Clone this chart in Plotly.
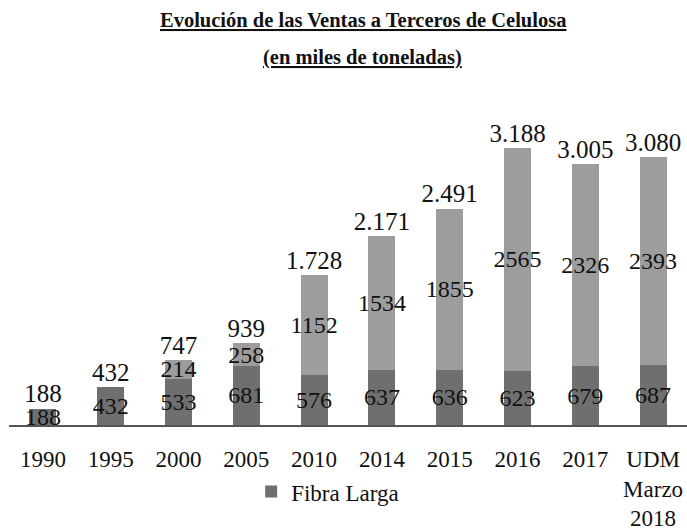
import plotly.graph_objects as go

categories = ["1990", "1995", "2000", "2005", "2010", "2014", "2015", "2016", "2017", "UDM<br>Marzo<br>2018"]
fibra_larga = [188, 432, 533, 681, 576, 637, 636, 623, 679, 687]
fibra_corta = [0, 0, 214, 258, 1152, 1534, 1855, 2565, 2326, 2393]
totales = [188, 432, 747, 939, 1728, 2171, 2491, 3188, 3005, 3080]

title_line1 = "Evolución de las Ventas a Terceros de Celulosa"
title_line2 = "(en miles de toneladas)"

SERIF = "Liberation Serif, Times New Roman, serif"
DARK = "#6f6f6f"
LIGHT = "#9d9d9d"

fig = go.Figure()
fig.add_trace(go.Bar(
    x=categories, y=fibra_larga, name="Fibra Larga",
    marker=dict(color=DARK, line=dict(width=0)),
    text=[str(v) for v in fibra_larga], textposition="inside",
    insidetextanchor="middle", constraintext="none", textangle=0,
    textfont=dict(family=SERIF, size=24, color="#111111"),
))
fig.add_trace(go.Bar(
    x=categories, y=fibra_corta, name="Fibra Corta", showlegend=False,
    marker=dict(color=LIGHT, line=dict(width=0)),
    text=[str(v) if v else "" for v in fibra_corta], textposition="inside",
    insidetextanchor="middle", constraintext="none", textangle=0,
    textfont=dict(family=SERIF, size=24, color="#111111"),
))
fig.add_trace(go.Scatter(
    x=categories, y=totales, mode="text", showlegend=False,
    texttemplate="%{y:,.0f}", textposition="top center", cliponaxis=False,
    textfont=dict(family=SERIF, size=25, color="#111111"),
))

plot_h = 528 - 100 - 103
fig.update_layout(
    width=687, height=528,
    margin=dict(l=9, r=0, t=100, b=103, autoexpand=False),
    paper_bgcolor="white", plot_bgcolor="white",
    barmode="stack", bargap=0.6,
    separators=",.",
    font=dict(family=SERIF, color="#111111"),
    showlegend=True,
    legend=dict(orientation="h", x=0.47, xanchor="center", y=-0.205, yanchor="middle",
                bgcolor="rgba(0,0,0,0)",
                font=dict(family=SERIF, size=23, color="#111111"), itemwidth=30),
    annotations=[
        dict(text="<u><b>" + title_line1 + "</b></u>", x=0.522, xref="paper", xanchor="center",
             y=1 + (100 - 20) / plot_h, yref="paper", yanchor="middle", showarrow=False,
             font=dict(family=SERIF, size=20.5, color="#111111")),
        dict(text="<u><b>" + title_line2 + "</b></u>", x=0.522, xref="paper", xanchor="center",
             y=1 + (100 - 58) / plot_h, yref="paper", yanchor="middle", showarrow=False,
             font=dict(family=SERIF, size=20.5, color="#111111")),
    ],
)

fig.update_xaxes(
    showline=True, linecolor="#555555", linewidth=2,
    ticks="", showgrid=False, zeroline=False, automargin=False,
    tickfont=dict(family=SERIF, size=23, color="#111111"),
    ticklabelstandoff=12,
)
fig.update_yaxes(visible=False, range=[0, 3740], showgrid=False, zeroline=False, automargin=False)

fig.write_html("out.html", config={"displayModeBar": False},
               post_script="document.body.style.margin='0';document.body.style.overflow='hidden';")
